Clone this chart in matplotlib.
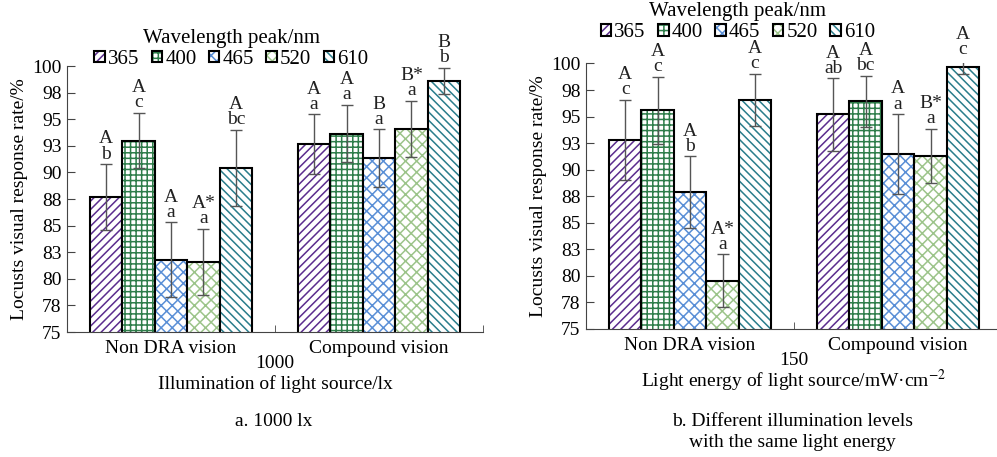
import matplotlib.pyplot as plt
import numpy as np
from matplotlib.patches import Patch
from matplotlib.legend_handler import HandlerTuple
import matplotlib.transforms as mtransforms

plt.rcParams['font.family'] = ['Liberation Serif', 'DejaVu Serif']
plt.rcParams['mathtext.fontset'] = 'stix'
plt.rcParams['hatch.linewidth'] = 1.1

groups = ['Non DRA vision', 'Compound vision']
wavelengths = ['365', '400', '465', '520', '610']
colors = ['#5b2d8e', '#2e7d4a', '#5a8fd6', '#9cc48a', '#2a7d8c']
hatches = ['////', '+++', 'xxx', 'xxx', '\\\\\\\\']

ytick_vals = [75, 77.5, 80, 82.5, 85, 87.5, 90, 92.5, 95, 97.5, 100]
ytick_labels = ['75', '78', '80', '83', '85', '88', '90', '93', '95', '98', '100']

# a. 1000 lx
a_nondra = [87.7, 93.0, 81.8, 81.6, 90.4]
a_nondra_err = [3.1, 2.6, 3.5, 3.1, 3.6]
a_comp = [92.65, 93.65, 91.35, 94.1, 98.6]
a_comp_err = [2.8, 2.7, 2.7, 2.65, 1.25]
a_nondra_lab = ['A\nb', 'A\nc', 'A\na', 'A*\na', 'A\nbc']
a_comp_lab = ['A\na', 'A\na', 'B\na', 'B*\na', 'B\nb']

# b. same light energy
b_nondra = [92.8, 95.6, 87.9, 79.55, 96.6]
b_nondra_err = [3.8, 3.15, 3.35, 2.5, 2.45]
b_comp = [95.2, 96.45, 91.5, 91.3, 99.7]
b_comp_err = [3.4, 2.4, 3.75, 2.55, 0.7]
b_nondra_lab = ['A\nc', 'A\nc', 'A\nb', 'A*\na', 'A\nc']
b_comp_lab = ['A\nab', 'A\nbc', 'A\na', 'B*\na', 'A\nc']

FS = 14


def draw_panel(ax, means, errs, labels, level, xlabel, legend_pos):
    x = np.arange(len(groups))
    w = 0.156
    for i in range(len(wavelengths)):
        xs = x + (i - 2) * w
        vals = [means[g][i] for g in range(2)]
        ee = [errs[g][i] for g in range(2)]
        ax.bar(xs, vals, w, color='white', edgecolor=colors[i],
               hatch=hatches[i], linewidth=0, zorder=2)
        ax.bar(xs, vals, w, fill=False, edgecolor='black', linewidth=1.5, zorder=2)
        ax.errorbar(xs, vals, yerr=ee, fmt='none', ecolor='#555555',
                    elinewidth=1, capsize=4, capthick=1, zorder=3)
        for g in range(2):
            ax.annotate(labels[g][i], (xs[g], vals[g] + ee[g]), xytext=(0, 1),
                        textcoords='offset points', ha='center', va='bottom',
                        fontsize=FS, linespacing=0.85, color='#222222',
                        annotation_clip=False)

    ax.set_xlim(-0.5, 1.5)
    ax.set_ylim(75, 100)
    ax.set_yticks(ytick_vals)
    ax.set_yticklabels(ytick_labels)
    ax.set_xticks(x)
    ax.set_xticklabels(groups)
    ax.set_xticks([-0.5, 0.5, 1.5], minor=True)
    ax.tick_params(axis='x', which='major', length=0, pad=6, labelsize=FS)
    ax.tick_params(axis='x', which='minor', direction='in', length=5, color='#444444')
    ax.tick_params(axis='y', direction='in', length=6, labelsize=FS, color='#444444', pad=4)
    for s in ['top', 'right']:
        ax.spines[s].set_visible(False)
    for s in ['left', 'bottom']:
        ax.spines[s].set_color('#444444')
    ax.set_ylabel('Locusts visual response rate/%', fontsize=FS, labelpad=3)

    trans = mtransforms.blended_transform_factory(ax.transData, ax.transAxes)
    ax.text(0.5, -0.12, level, transform=trans, ha='center', va='center', fontsize=FS)
    ax.text(0.5, -0.195, xlabel, transform=trans, ha='center', va='center', fontsize=FS)

    handles = [(Patch(facecolor='white', edgecolor=colors[i], hatch=hatches[i], linewidth=0),
                Patch(fill=False, edgecolor='black', linewidth=1.5))
               for i in range(len(wavelengths))]
    ax.legend(handles, wavelengths, handler_map={tuple: HandlerTuple(ndivide=1)},
              loc='center', bbox_to_anchor=legend_pos, bbox_transform=ax.figure.transFigure,
              ncol=5, frameon=False, fontsize=15, title='Wavelength peak/nm',
              title_fontsize=15, handlelength=0.5, handleheight=0.5,
              handletextpad=0.15, columnspacing=0.6, borderpad=0, labelspacing=0.1)


fig = plt.figure(figsize=(9.97, 4.57), dpi=100)
ax1 = fig.add_axes([0.0672, 0.2735, 0.4173, 0.582])
ax2 = fig.add_axes([0.5878, 0.2801, 0.4173, 0.581])

draw_panel(ax1, [a_nondra, a_comp], [a_nondra_err, a_comp_err],
           [a_nondra_lab, a_comp_lab], '1000', 'Illumination of light source/lx',
           (0.232, 0.893))
draw_panel(ax2, [b_nondra, b_comp], [b_nondra_err, b_comp_err],
           [b_nondra_lab, b_comp_lab], '150', 'Light energy of light source/mW·cm$^{-2}$',
           (0.74, 0.952))

fig.text(0.275, 1 - 422 / 457, 'a. 1000 lx', ha='center', va='center', fontsize=FS)
fig.text(0.795, 1 - 432 / 457, 'b. Different illumination levels\nwith the same light energy',
         ha='center', va='center', fontsize=FS, linespacing=1.25)

fig.savefig('out.png', dpi=100)
